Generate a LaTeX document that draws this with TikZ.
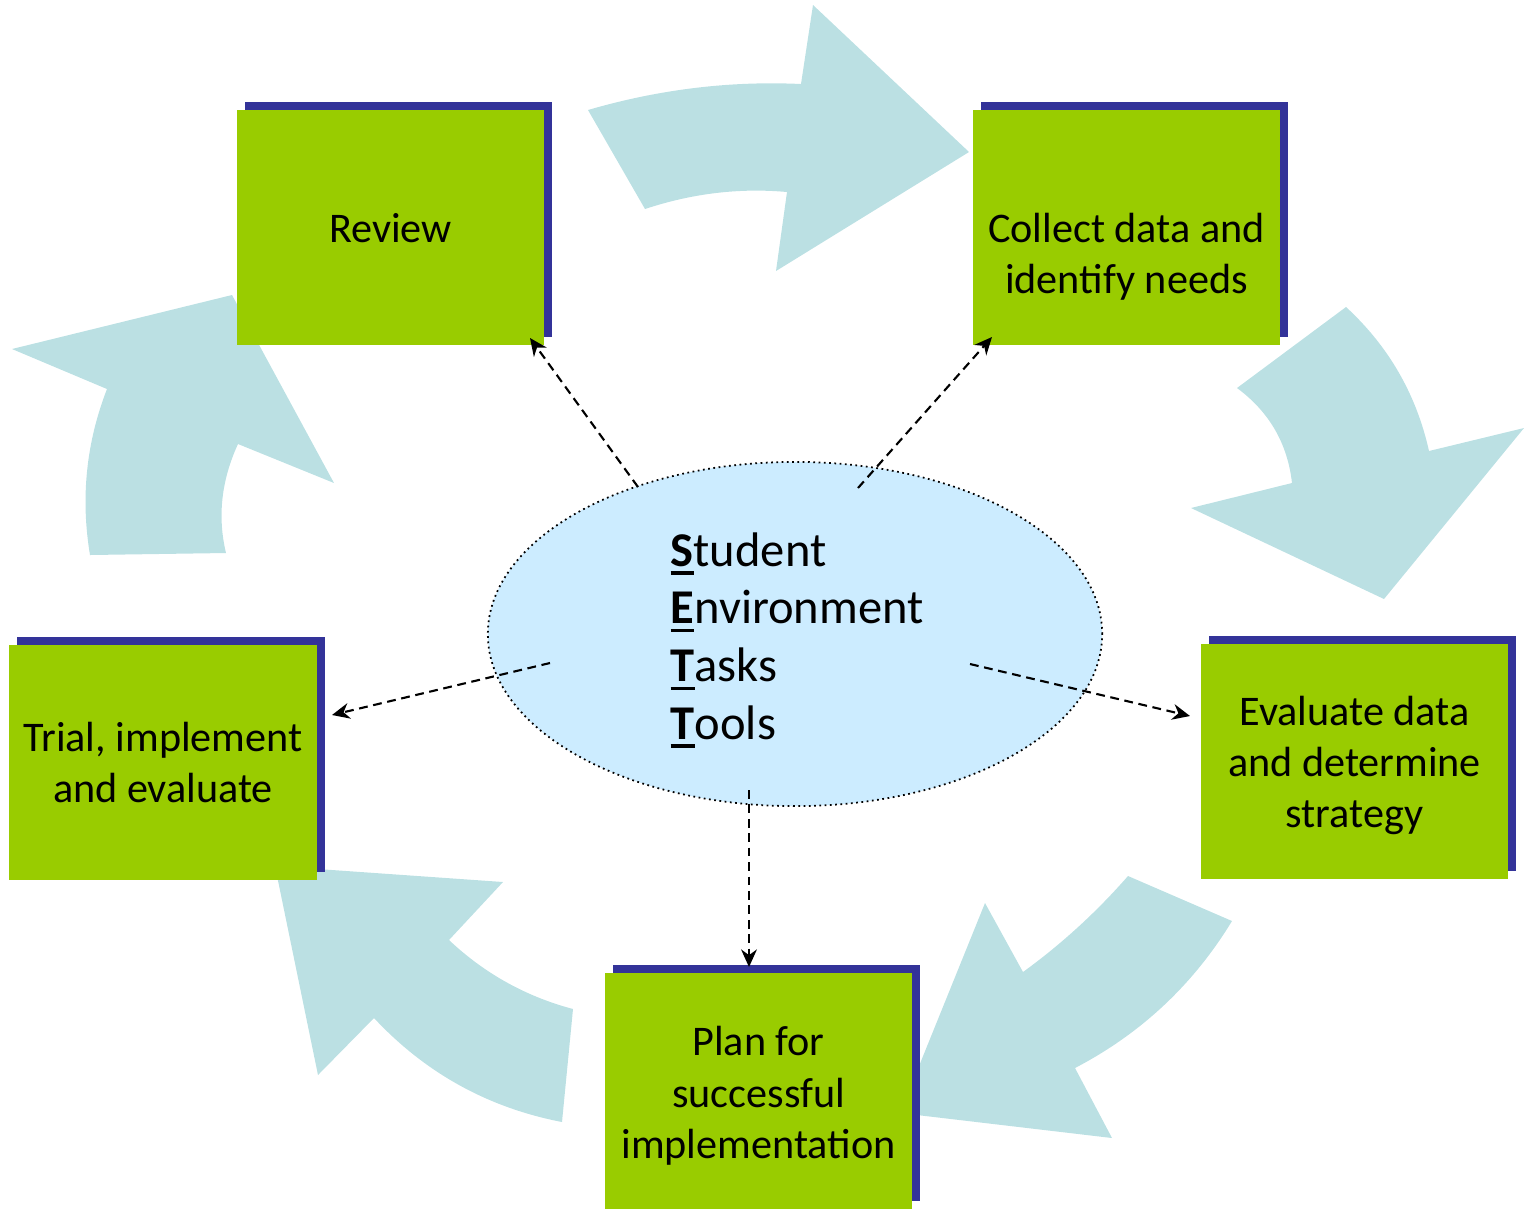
\documentclass[tikz,border=0pt]{standalone}
\usepackage{fontspec}
\setmainfont{Carlito}
\usetikzlibrary{shapes.geometric,arrows.meta,shadows,calc}
\definecolor{arrowc}{HTML}{BBE0E3}
\definecolor{boxgreen}{HTML}{99CC00}
\definecolor{shadowblue}{HTML}{333399}
\definecolor{ellfill}{HTML}{CCECFF}
\newcommand\firstl[1]{\setbox0\hbox{\textbf{#1}}\rlap{\rule[-2.4pt]{\wd0}{0.9pt}}\box0}
\begin{document}
\begin{tikzpicture}[x=0.01cm,y=-0.01cm,
  stepbox/.style={fill=boxgreen, minimum width=3.07cm, minimum height=2.35cm,
    inner sep=0pt,
    drop shadow={shadow xshift=0.08cm, shadow yshift=0.08cm, fill=shadowblue, opacity=1}},
  boxtext/.style={align=center, inner sep=0pt, font=\fontsize{12}{14.6}\selectfont},
  bigarrow/.style={fill=arrowc},
  link/.style={line width=0.6pt, dash pattern=on 2.5pt off 1.6pt,
    -{Stealth[length=5pt,width=4.5pt]}}]
\useasboundingbox (0,0) rectangle (1524,1208);

% curved arrows
\fill[bigarrow] (588,110) .. controls (659,89.3) and (730,80.7) .. (801,84) -- (813,5) -- (969,152)
  -- (776,271) -- (787,192) .. controls (739.7,187.7) and (692.3,193.3) .. (645,209) -- cycle;
\fill[bigarrow] (1346,307) .. controls (1388.7,346.3) and (1416.3,394.3) .. (1429,451) -- (1524,428)
  -- (1384,599) -- (1191,508) -- (1292,483) .. controls (1287.5,443.3) and (1269.1,411.7) .. (1237,388) -- cycle;
\fill[bigarrow] (1128,876) -- (1232,921) .. controls (1193.3,984.6) and (1141,1033.6) .. (1075,1068)
  -- (1112,1138) -- (900,1113) -- (985,903) -- (1023,972) .. controls (1061.6,944) and (1096.6,911.9) .. (1128,876) -- cycle;
\fill[bigarrow] (573,1009) -- (562,1122) .. controls (488.1,1107.7) and (425.4,1073.1) .. (374,1018)
  -- (318,1075) -- (275,866) -- (503,882) -- (449,940) .. controls (484.5,973.5) and (525.9,996.5) .. (573,1009) -- cycle;
\fill[bigarrow] (90,555) .. controls (80.5,498.1) and (86.1,442.8) .. (107,389) -- (12,349) -- (232,295)
  -- (334,483) -- (238,444) .. controls (221.3,480.3) and (217.3,516.7) .. (226,553) -- cycle;

% boxes
\node[stepbox] (review) at (390.5,227.5) {};
\node[stepbox] (collect) at (1126.5,227.5) {};
\node[stepbox] (evaluate) at (1354.5,761.5) {};
\node[stepbox] (plan) at (758.5,1091) {};
\node[stepbox] (trial) at (163,762.5) {};
\node[boxtext] (reviewtext) at ($(review.center)+(0,1)$) {Review};
\node[boxtext] (collecttext) at ($(collect.center)+(0,29)$) {Collect data and\\identify needs};
\node[boxtext] (evaluatetext) at ($(evaluate.center)+(0,4)$) {Evaluate data\\and determine\\strategy};
\node[boxtext] (plantext) at ($(plan.center)+(0,5)$) {Plan for\\successful\\implementation};
\node[boxtext] (trialtext) at (trial.center) {Trial, implement\\and evaluate};

% central ellipse
\node[ellipse, fill=ellfill, draw=black, densely dotted, line width=0.5pt,
  minimum width=6.14cm, minimum height=3.44cm, inner sep=0pt] (set) at (795,634) {};
\node[anchor=west, align=left, inner sep=0pt, font=\fontsize{13.8}{16.4}\selectfont]
  (settext) at (670,640) {\firstl{S}tudent\\\firstl{E}nvironment\\\firstl{T}asks\\\firstl{T}ools};

% dashed connectors
\coordinate (s1) at (638,487); \coordinate (e1) at (530,338);
\coordinate (s2) at (858,488); \coordinate (e2) at (992,337);
\coordinate (s3) at (550,663); \coordinate (e3) at (332,715);
\coordinate (s4) at (970,664); \coordinate (e4) at (1190,716);
\coordinate (s5) at (749,790); \coordinate (e5) at (749,967);
\draw[link] (s1) -- (e1);
\draw[link] (s2) -- (e2);
\draw[link] (s3) -- (e3);
\draw[link] (s4) -- (e4);
\draw[link] (s5) -- (e5);
\end{tikzpicture}
\end{document}
